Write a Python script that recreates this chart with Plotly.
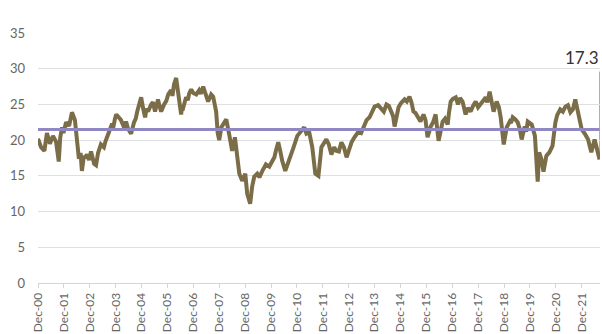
import plotly.graph_objects as go

# Series observations (date, level)
dates = [
    "2000-12-01", "2001-01-13", "2001-03-01", "2001-04-06", "2001-05-18", "2001-06-30",
    "2001-08-12", "2001-09-20", "2001-10-10", "2001-11-05", "2001-11-25", "2002-01-01",
    "2002-02-13", "2002-03-25", "2002-05-06", "2002-06-03", "2002-07-01", "2002-07-25",
    "2002-08-12", "2002-09-10", "2002-09-24", "2002-10-22", "2002-11-21", "2002-12-19",
    "2003-02-01", "2003-02-28", "2003-03-28", "2003-05-07", "2003-06-19", "2003-07-10",
    "2003-08-01", "2003-09-01", "2003-10-12", "2003-10-25", "2003-11-22", "2003-12-10",
    "2004-01-04", "2004-02-15", "2004-03-28", "2004-04-26", "2004-05-24", "2004-07-06",
    "2004-08-17", "2004-09-10", "2004-10-01", "2004-11-05", "2004-11-25", "2004-12-22",
    "2005-01-20", "2005-02-10", "2005-03-03", "2005-04-15", "2005-05-10", "2005-06-09",
    "2005-07-21", "2005-08-10", "2005-09-03", "2005-10-15", "2005-11-15", "2005-12-12",
    "2006-01-22", "2006-02-10", "2006-03-04", "2006-04-03", "2006-05-01", "2006-06-12",
    "2006-06-25", "2006-07-10", "2006-08-21", "2006-09-15", "2006-10-03", "2006-11-01",
    "2006-12-01", "2007-01-12", "2007-02-22", "2007-03-20", "2007-04-19", "2007-05-10",
    "2007-06-01", "2007-06-28", "2007-07-20", "2007-08-10", "2007-09-07", "2007-10-19",
    "2007-11-10", "2007-12-01", "2008-01-01", "2008-02-01", "2008-03-10", "2008-04-20",
    "2008-06-01", "2008-07-10", "2008-08-20", "2008-09-10", "2008-10-21", "2008-12-03",
    "2008-12-30", "2009-02-10", "2009-03-10", "2009-04-09", "2009-05-21", "2009-06-20",
    "2009-08-01", "2009-09-20", "2009-11-07", "2009-12-10", "2010-01-18", "2010-02-10",
    "2010-03-13", "2010-04-10", "2010-05-08", "2010-06-20", "2010-09-01", "2010-10-15",
    "2010-12-07", "2011-01-20", "2011-03-15", "2011-04-15", "2011-05-24", "2011-07-06",
    "2011-08-18", "2011-10-01", "2011-11-12", "2012-01-21", "2012-02-25", "2012-04-01",
    "2012-05-10", "2012-06-10", "2012-07-15", "2012-08-20", "2012-09-25", "2012-11-01",
    "2013-01-10", "2013-02-20", "2013-04-18", "2013-05-25", "2013-06-28", "2013-08-10",
    "2013-09-21", "2013-10-25", "2013-12-01", "2014-01-20", "2014-03-07", "2014-04-10",
    "2014-05-18", "2014-06-20", "2014-07-28", "2014-08-20", "2014-09-09", "2014-10-10",
    "2014-11-04", "2014-12-10", "2015-01-28", "2015-03-01", "2015-04-07", "2015-05-05",
    "2015-06-03", "2015-07-01", "2015-08-01", "2015-09-10", "2015-10-22", "2015-11-20",
    "2015-12-18", "2016-02-01", "2016-03-05", "2016-04-10", "2016-05-22", "2016-06-20",
    "2016-07-18", "2016-08-20", "2016-09-28", "2016-10-15", "2016-11-09", "2016-12-10",
    "2017-01-19", "2017-02-20", "2017-03-20", "2017-04-25", "2017-05-15", "2017-06-07",
    "2017-07-10", "2017-08-17", "2017-09-20", "2017-10-27", "2017-11-30", "2018-01-07",
    "2018-02-10", "2018-03-16", "2018-04-10", "2018-05-12", "2018-06-10", "2018-07-07",
    "2018-08-19", "2018-09-20", "2018-10-15", "2018-11-27", "2019-01-08", "2019-02-20",
    "2019-03-10", "2019-04-03", "2019-05-10", "2019-06-12", "2019-07-10", "2019-08-07",
    "2019-09-19", "2019-10-10", "2019-11-01", "2019-12-27", "2020-02-10", "2020-03-20",
    "2020-04-10", "2020-05-10", "2020-06-10", "2020-07-20", "2020-09-01", "2020-10-15",
    "2020-11-25", "2020-12-20", "2021-02-01", "2021-03-10", "2021-04-15", "2021-05-20",
    "2021-06-25", "2021-07-30", "2021-09-01", "2021-10-15", "2021-11-10", "2021-12-01",
    "2022-01-20", "2022-03-01", "2022-04-15", "2022-06-01", "2022-08-10",
]
values = [
    20.2, 19.0, 18.5, 21.0, 19.5, 20.6,
    19.8, 17.0, 20.3, 21.8, 21.0, 22.5,
    22.0, 23.9, 22.8, 19.9, 17.4, 18.2,
    15.7, 17.8, 17.5, 18.0, 17.2, 18.4,
    16.7, 16.5, 18.2, 19.4, 19.0, 19.8,
    20.6, 21.2, 22.3, 21.6, 23.0, 23.6,
    23.3, 22.8, 21.8, 22.6, 21.6, 20.9,
    22.5, 23.0, 24.0, 25.2, 26.0, 24.5,
    23.2, 24.4, 24.0, 25.0, 25.3, 24.0,
    25.7, 24.8, 24.0, 25.0, 25.5, 26.4,
    27.0, 26.2, 27.8, 28.7, 26.5, 23.6,
    24.6, 24.5, 26.0, 25.6, 26.5, 27.1,
    26.6, 26.4, 27.0, 26.5, 27.5, 26.9,
    26.3, 25.4, 25.9, 26.4, 26.1, 24.0,
    21.0, 20.0, 21.8, 22.2, 22.9, 20.8,
    18.5, 20.4, 16.5, 15.3, 14.3, 15.3,
    12.5, 11.1, 13.5, 14.9, 15.3, 14.8,
    15.7, 16.6, 16.3, 16.8, 17.6, 18.6,
    19.7, 18.5, 17.1, 15.7, 17.6, 19.0,
    20.6, 21.2, 21.8, 20.9, 21.1, 19.0,
    15.3, 15.0, 19.0, 20.1, 19.4, 18.0,
    19.0, 18.5, 18.4, 19.7, 19.0, 17.6,
    19.7, 20.4, 21.2, 21.0, 21.9, 22.8,
    23.2, 24.0, 24.7, 24.9, 24.3, 24.0,
    25.0, 24.8, 23.9, 23.3, 21.9, 23.5,
    24.6, 25.2, 25.7, 25.4, 26.1, 25.3,
    24.0, 23.8, 23.2, 22.6, 23.6, 22.8,
    20.4, 21.9, 22.5, 23.6, 19.9, 21.5,
    22.6, 23.0, 22.2, 23.8, 25.4, 25.8,
    26.0, 25.0, 25.9, 25.4, 24.6, 23.6,
    24.5, 24.0, 24.8, 25.4, 24.6, 25.0,
    25.5, 26.0, 25.3, 26.8, 25.0, 24.0,
    25.4, 24.6, 23.2, 19.4, 21.8, 22.6,
    22.4, 23.2, 22.9, 22.5, 21.6, 20.1,
    21.9, 21.2, 22.6, 22.2, 20.6, 14.2,
    18.3, 17.4, 15.6, 17.8, 18.3, 19.2,
    22.5, 23.5, 24.3, 24.0, 24.7, 24.9,
    23.9, 24.3, 25.7, 23.3, 22.4, 21.5,
    20.8, 20.1, 18.3, 20.1, 17.3,
]

# Long-run average level
average = 21.5

# Y axis ticks
y_ticks = [0, 5, 10, 15, 20, 25, 30, 35]

FONT = "Lato"
OLIVE = "#7b6d47"
LAVENDER = "#8f88c2"

fig = go.Figure()

fig.add_trace(go.Scatter(
    x=dates, y=values, mode="lines",
    line=dict(color=OLIVE, width=4),
    hoverinfo="skip", showlegend=False,
))

fig.add_trace(go.Scatter(
    x=[dates[0], dates[-1]], y=[average, average], mode="lines",
    line=dict(color=LAVENDER, width=3),
    hoverinfo="skip", showlegend=False,
))

# thin marker line from the latest reading up to its label
fig.add_shape(
    type="line", xref="x", yref="y", layer="below",
    x0=dates[-1], x1=dates[-1], y0=values[-1], y1=29.6,
    line=dict(color="#a9a9a9", width=1),
)

fig.add_annotation(
    x=dates[-1], y=29.8, xref="x", yref="y",
    text=f"{values[-1]:.1f}", showarrow=False,
    xanchor="right", yanchor="bottom", xshift=1,
    font=dict(family=FONT, size=17, color="#333333"),
)

fig.update_layout(
    width=602, height=334,
    margin=dict(l=38, r=2, t=33, b=49),
    paper_bgcolor="white", plot_bgcolor="white",
    font=dict(family=FONT, size=12, color="#666666"),
    xaxis=dict(
        type="date",
        range=["2000-12-01", "2022-08-16"],
        tick0="2000-12-01", dtick="M12", tickformat="%b-%y",
        tickangle=-90,
        showgrid=False, zeroline=False,
        showline=True, linecolor="#d4d4d4", linewidth=1,
        ticks="outside", ticklen=4, tickcolor="#d4d4d4",
        tickfont=dict(family=FONT, size=12, color="#666666"),
    ),
    yaxis=dict(
        range=[0, 35], tickvals=y_ticks,
        showgrid=True, gridcolor="#e0e0e0", gridwidth=1,
        zeroline=False, showline=False,
        ticklabelstandoff=12,
        tickfont=dict(family=FONT, size=13, color="#666666"),
    ),
)

fig.write_html("out.html")
